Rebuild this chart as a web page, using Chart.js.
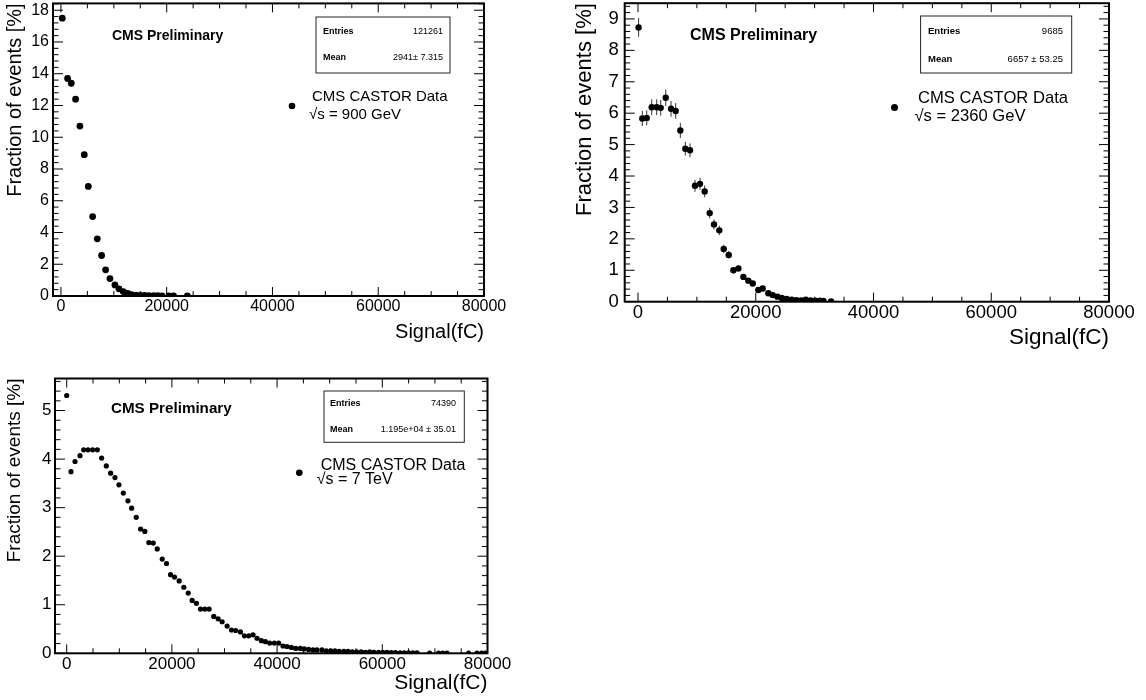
<!DOCTYPE html>
<html>
<head>
<meta charset="utf-8">
<script src="https://cdn.jsdelivr.net/npm/chart.js@4.4.0/dist/chart.umd.min.js"></script>
<style>
body{margin:0;background:#fff;width:1146px;height:700px;position:relative;overflow:hidden}
canvas{position:absolute}
</style>
</head>
<body>
<canvas id="castor900" width="520" height="345" style="left:0;top:0"></canvas>
<canvas id="castor2360" width="586" height="355" style="left:560px;top:0"></canvas>
<canvas id="castor7000" width="520" height="340" style="left:0;top:360px"></canvas>
<script>
// values (signal in fC, fraction in %)
const signal900 = [250, 1260, 1950, 2770, 3590, 4410, 5170, 5990, 6870, 7690, 8450, 9270, 10210, 10970,
    11790, 12610, 13360, 14200, 15000, 15800, 16600, 17500, 18300, 19100, 20400, 21300, 23900];
const fraction900 = [17.5, 13.7, 13.4, 12.4, 10.7, 8.9, 6.9, 5.0, 3.6, 2.55, 1.65, 1.1, 0.7, 0.45,
    0.28, 0.16, 0.09, 0.06, 0.04, 0.03, 0.02, 0.02, 0.015, 0.01, 0.01, 0.008, 0.005];

const signal2360 = [100, 730, 1480, 2330, 3180, 3860, 4710, 5610, 6400, 7190, 8040, 8830, 9680, 10530,
    11330, 12180, 12910, 13810, 14560, 15410, 16200, 17050, 17900, 18740, 19490, 20440, 21180, 22140,
    22880, 23670, 24430, 25270, 26100, 26900, 27700, 28500, 29300, 30100, 30900, 31500, 32800];
const fraction2360 = [8.73, 5.83, 5.85, 6.19, 6.19, 6.17, 6.49, 6.14, 6.07, 5.45, 4.87, 4.82, 3.69, 3.75,
    3.51, 2.82, 2.46, 2.27, 1.68, 1.49, 1.00, 1.06, 0.79, 0.67, 0.58, 0.37, 0.42, 0.27,
    0.21, 0.16, 0.12, 0.09, 0.06, 0.05, 0.04, 0.06, 0.04, 0.03, 0.03, 0.02, 0.01];
const error2360 = [0.30, 0.24, 0.24, 0.25, 0.25, 0.25, 0.26, 0.25, 0.25, 0.24, 0.22, 0.22, 0.19, 0.19,
    0.19, 0.17, 0.16, 0.15, 0.13, 0.12, 0.10, 0.10, 0.09, 0.08, 0.08, 0.06, 0.07, 0.05,
    0.05, 0.04, 0.035, 0.03, 0.025, 0.02, 0.02, 0.025, 0.02, 0.02, 0.02, 0.015, 0.01];

const signal7000 = [0, 820, 1580, 2530, 3230, 4050, 4930, 5820, 6640, 7530, 8350, 9180, 9930, 10760,
    11640, 12340, 13220, 14050, 14860, 15620, 16450, 17210, 18160, 18980, 19740, 20500, 21380, 22270,
    23100, 23850, 24670, 25430, 26260, 27080, 27960, 28790, 29550, 30500, 31320, 32140, 33030, 33780,
    34600, 35430, 36190, 37010, 37770, 38590, 39480, 40300, 41120, 41880, 42700, 43530, 44410, 45170,
    45990, 46820, 47580, 48530, 49350, 50200, 51000, 51800, 52700, 53500, 54300, 55100, 56000, 56800,
    57600, 58400, 59300, 60100, 60900, 61700, 62500, 63400, 64200, 65000, 65800, 66600, 69000, 70700,
    71500, 72300, 76400, 78000, 78900, 79600];
const fraction7000 = [5.31, 3.74, 3.95, 4.07, 4.19, 4.19, 4.19, 4.19, 4.02, 3.86, 3.71, 3.62, 3.47, 3.30,
    3.14, 2.99, 2.80, 2.56, 2.51, 2.28, 2.27, 2.15, 1.94, 1.85, 1.62, 1.57, 1.49, 1.36,
    1.24, 1.09, 1.03, 0.91, 0.91, 0.91, 0.76, 0.71, 0.65, 0.56, 0.48, 0.47, 0.44, 0.36,
    0.36, 0.38, 0.31, 0.26, 0.24, 0.21, 0.21, 0.21, 0.15, 0.14, 0.12, 0.10, 0.10, 0.09,
    0.08, 0.07, 0.07, 0.07, 0.05, 0.05, 0.05, 0.04, 0.04, 0.04, 0.03, 0.03, 0.03, 0.02,
    0.03, 0.02, 0.02, 0.02, 0.02, 0.015, 0.015, 0.01, 0.01, 0.01, 0.01, 0.01, 0.005, 0.005,
    0.005, 0.005, 0.005, 0.005, 0.005, 0.005];

const xTicks = [0, 20000, 40000, 60000, 80000];
const yTicks900 = [0, 2, 4, 6, 8, 10, 12, 14, 16, 18];
const yTicks2360 = [0, 1, 2, 3, 4, 5, 6, 7, 8, 9];
const yTicks7000 = [0, 1, 2, 3, 4, 5];

const statEntries = ["121261", "9685", "74390"];
const statMean = ["2941\u00b1 7.315", "6657 \u00b1 53.25", "1.195e+04 \u00b1 35.01"];
const energyLabels = ["\u221as = 900 GeV", "\u221as = 2360 GeV", "\u221as = 7 TeV"];

const fontFamily = '"Liberation Sans", Arial, Helvetica, sans-serif';

/*where each pad sits inside its canvas*/
const look900 = {
    w: 520, h: 345, area: {left: 53, top: 3, right: 484, bottom: 296},
    xMin: -1500, yMax: 18.43, yMinor: 0.4,
    tickFont: 16, tickPadX: 1, tickPadY: 4, titleFont: 20, xTitleFont: 20, yTitlePad: 3, xTitlePad: 1,
    pointR: 3.4,
    prelim: {x: 112, y: 36, size: 14},
    box: {x1: 316, y1: 17, x2: 450, y2: 73, tx: 323, vx: 443, y1t: 32, y2t: 58, size: 9},
    legend: {dx: 292, dy: 106, r: 3.3, tx: 312, ty: 97, sx: 309, sy: 115, size: 15}
};
const look2360 = {
    w: 586, h: 355, area: {left: 64.7, top: 2, right: 549, bottom: 301.7},
    xMin: -2260, yMax: 9.5, yMinor: 0.2,
    tickFont: 18.5, tickPadX: 0.5, tickPadY: 6, titleFont: 22, xTitleFont: 22.5, yTitlePad: 12, xTitlePad: 3.5,
    pointR: 3.2,
    prelim: {x: 130, y: 36, size: 16},
    box: {x1: 360.6, y1: 16, x2: 511.7, y2: 73, tx: 368, vx: 503, y1t: 31, y2t: 59.6, size: 9.5},
    legend: {dx: 334.5, dy: 107.5, r: 3.5, tx: 358, ty: 98.5, sx: 354.4, sy: 116.5, size: 16.6}
};
const look7000 = {
    w: 520, h: 340, area: {left: 55, top: 18.5, right: 487.5, bottom: 293.3},
    xMin: -2225, yMax: 5.66, yMinor: 0.2,
    tickFont: 17, tickPadX: 0.5, tickPadY: 3.5, titleFont: 19, xTitleFont: 21, yTitlePad: 3.6, xTitlePad: 4.4,
    pointR: 2.6,
    prelim: {x: 111, y: 49, size: 15.2},
    box: {x1: 324, y1: 31, x2: 464.3, y2: 82.3, tx: 330, vx: 456, y1t: 43.3, y2t: 69.3, size: 9},
    legend: {dx: 299.3, dy: 112.7, r: 3.3, tx: 320.7, ty: 105.3, sx: 316.7, sy: 120, size: 16}
};

function makePoints(xs, ys){
    let points = [];
    for(let i = 0; i < xs.length; i++){
        points.push({x: xs[i], y: ys[i]});
    }
    return points;
}

function isMajor(v, step){
    return Math.abs(v / step - Math.round(v / step)) < 1e-6;
}

function drawRootTicks(ctx, chart, look){
    let a = chart.chartArea;
    let xs = chart.scales.x, ys = chart.scales.y;

    ctx.save();
    ctx.strokeStyle = '#000';
    ctx.lineWidth = 2;
    ctx.strokeRect(a.left, a.top, a.right - a.left, a.bottom - a.top);

    ctx.lineWidth = 1;
    ctx.beginPath();
    for(let v = 0; v <= 80000; v += 5000){
        let px = xs.getPixelForValue(v);
        let len = isMajor(v, 20000) ? 9 : 5;
        ctx.moveTo(px, a.bottom); ctx.lineTo(px, a.bottom - len);
        ctx.moveTo(px, a.top); ctx.lineTo(px, a.top + len);
    }
    let majorY = look.yMinor * 5;
    for(let v = 0; v <= look.yMax + 1e-9; v += look.yMinor){
        let py = ys.getPixelForValue(v);
        let len = isMajor(v, majorY) ? 10 : 5.5;
        ctx.moveTo(a.left, py); ctx.lineTo(a.left + len, py);
        ctx.moveTo(a.right, py); ctx.lineTo(a.right - len, py);
    }
    ctx.stroke();
    ctx.restore();
}

function drawLabels(ctx, look, idx){
    ctx.save();
    ctx.fillStyle = '#000';
    ctx.textBaseline = 'middle';

    ctx.font = 'bold ' + look.prelim.size + 'px ' + fontFamily;
    ctx.fillText('CMS Preliminary', look.prelim.x, look.prelim.y);

    let b = look.box;
    ctx.strokeStyle = '#222';
    ctx.lineWidth = 1;
    ctx.strokeRect(b.x1, b.y1, b.x2 - b.x1, b.y2 - b.y1);
    ctx.font = 'bold ' + b.size + 'px ' + fontFamily;
    ctx.textAlign = 'left';
    ctx.fillText('Entries', b.tx, b.y1t);
    ctx.fillText('Mean', b.tx, b.y2t);
    ctx.font = b.size + 'px ' + fontFamily;
    ctx.textAlign = 'right';
    ctx.fillText(statEntries[idx], b.vx, b.y1t);
    ctx.fillText(statMean[idx], b.vx, b.y2t);

    let l = look.legend;
    ctx.beginPath();
    ctx.arc(l.dx, l.dy, l.r, 0, Math.PI * 2);
    ctx.fill();
    ctx.textAlign = 'left';
    ctx.font = l.size + 'px ' + fontFamily;
    ctx.fillText('CMS CASTOR Data', l.tx, l.ty);
    ctx.fillText(energyLabels[idx], l.sx, l.sy);
    ctx.restore();
}

const rootDecor = {
    id: 'rootDecor',
    beforeDatasetsDraw(chart, args, opts){
        if(!opts.errors) return;
        let ctx = chart.ctx;
        let xs = chart.scales.x, ys = chart.scales.y;
        let pts = chart.data.datasets[0].data;
        ctx.save();
        ctx.strokeStyle = '#333';
        ctx.lineWidth = 1;
        ctx.beginPath();
        for(let i = 0; i < pts.length; i++){
            let px = xs.getPixelForValue(pts[i].x);
            ctx.moveTo(px, ys.getPixelForValue(pts[i].y - opts.errors[i]));
            ctx.lineTo(px, ys.getPixelForValue(pts[i].y + opts.errors[i]));
        }
        ctx.stroke();
        ctx.restore();
    },
    afterDraw(chart, args, opts){
        drawRootTicks(chart.ctx, chart, opts.look);
        drawLabels(chart.ctx, opts.look, opts.idx);
    }
};

function makeGraph(id, xs, ys, errors, yTicks, look, idx){
    let canvas = document.getElementById(id).getContext("2d");

    let xScale = {
        type: 'linear',
        min: look.xMin,
        max: 80000,
        grid: {display: false, drawTicks: false},
        border: {display: false},
        ticks: {
            color: '#000',
            font: {family: fontFamily, size: look.tickFont},
            padding: look.tickPadX,
            maxRotation: 0,
            autoSkip: false,
            callback: v => String(v)
        },
        afterBuildTicks: scale => { scale.ticks = xTicks.map(v => ({value: v})); },
        afterFit: scale => {
            scale.height = look.h - look.area.bottom;
            scale.paddingLeft = 0;
            scale.paddingRight = 0;
        },
        title: {
            display: true,
            text: 'Signal(fC)',
            align: 'end',
            color: '#000',
            font: {family: fontFamily, size: look.xTitleFont},
            padding: {top: 0, bottom: look.xTitlePad}
        }
    };

    let yScale = {
        type: 'linear',
        min: 0,
        max: look.yMax,
        grid: {display: false, drawTicks: false},
        border: {display: false},
        ticks: {
            color: '#000',
            font: {family: fontFamily, size: look.tickFont},
            padding: look.tickPadY,
            autoSkip: false,
            callback: v => String(v)
        },
        afterBuildTicks: scale => { scale.ticks = yTicks.map(v => ({value: v})); },
        afterFit: scale => {
            scale.width = look.area.left;
            scale.paddingTop = 0;
            scale.paddingBottom = 0;
        },
        title: {
            display: true,
            text: 'Fraction of events [%]',
            align: 'end',
            color: '#000',
            font: {family: fontFamily, size: look.titleFont},
            padding: {top: look.yTitlePad, bottom: 0}
        }
    };

    let chart = new Chart(canvas, {
        type: 'scatter',
        data: {
            datasets: [{
                label: 'CMS CASTOR Data',
                data: makePoints(xs, ys),
                backgroundColor: '#000',
                borderWidth: 0,
                pointRadius: look.pointR,
                pointHoverRadius: look.pointR
            }]
        },
        options: {
            responsive: false,
            animation: false,
            events: [],
            layout: {padding: {left: 0, top: look.area.top, right: look.w - look.area.right, bottom: 0}},
            scales: {x: xScale, y: yScale},
            plugins: {
                legend: {display: false},
                tooltip: {enabled: false},
                rootDecor: {look: look, idx: idx, errors: errors}
            }
        },
        plugins: [rootDecor]
    });
    return chart;
}

makeGraph("castor900", signal900, fraction900, null, yTicks900, look900, 0);
makeGraph("castor2360", signal2360, fraction2360, error2360, yTicks2360, look2360, 1);
makeGraph("castor7000", signal7000, fraction7000, null, yTicks7000, look7000, 2);
</script>
</body>
</html>
